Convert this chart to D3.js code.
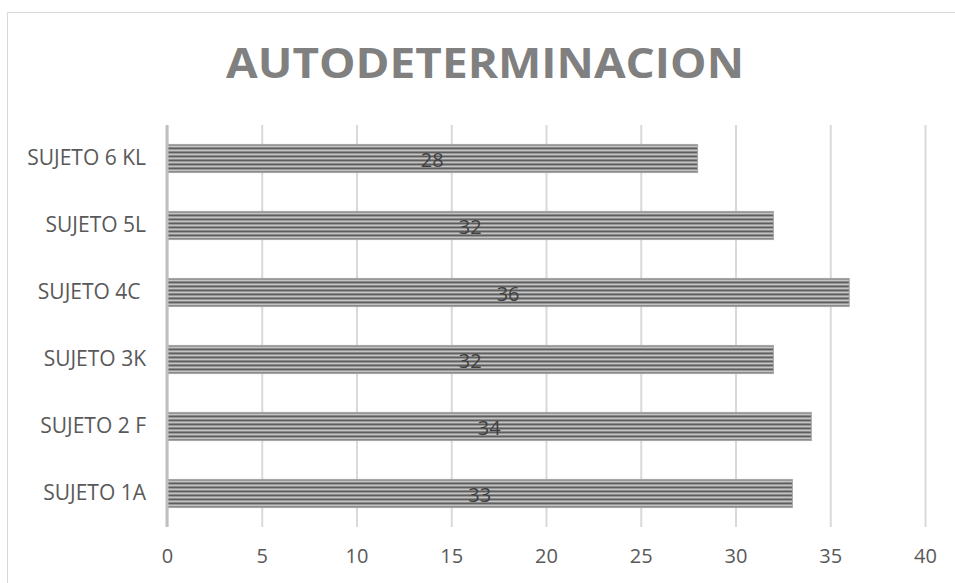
<!DOCTYPE html>
<html>
<head>
<meta charset="utf-8">
<script src="https://cdn.jsdelivr.net/npm/d3@7"></script>
<style>
  body { margin: 0; background: #fff; }
  svg { display: block; font-family: 'Open Sans', 'Noto Sans', sans-serif; }
</style>
</head>
<body>
<svg id="chart"></svg>
<script>
// data, bottom to top as in the original
const categories = ['SUJETO 1A', 'SUJETO 2 F', 'SUJETO 3K', 'SUJETO 4C ', 'SUJETO 5L', 'SUJETO 6 KL'];
const values = [33, 34, 32, 36, 32, 28];
const xTicks = [0, 5, 10, 15, 20, 25, 30, 35, 40];
const title = 'AUTODETERMINACION';

const width = 955;
const height = 583;
const margin = { top: 125, right: 30, bottom: 56, left: 167 };
const innerWidth = 925 - margin.left;
const innerHeight = height - margin.top - margin.bottom;

const svg = d3.select('#chart')
  .attr('width', width)
  .attr('height', height);

// chart border (runs off the right and bottom edges)
svg.append('path')
  .attr('d', `M${width},12.5H7.5V${height}`)
  .attr('fill', 'none')
  .attr('stroke', '#d9d9d9');

svg.append('text')
  .attr('x', 485)
  .attr('y', 78)
  .attr('text-anchor', 'middle')
  .attr('font-size', 41)
  .attr('font-weight', 'bold')
  .attr('fill', '#808080')
  .attr('textLength', 518)
  .attr('lengthAdjust', 'spacingAndGlyphs')
  .text(title);

const x = d3.scaleLinear().domain([0, 40]).range([0, innerWidth]);
const y = d3.scaleBand()
  .domain(categories.slice().reverse())
  .range([0, innerHeight])
  .paddingInner(0.58)
  .paddingOuter(0.29);

const defs = svg.append('defs');
const g = svg.append('g').attr('transform', `translate(${margin.left},${margin.top})`);

// grid
g.append('g')
  .attr('class', 'grid')
  .attr('transform', `translate(0,${innerHeight})`)
  .call(d3.axisBottom(x).tickValues(xTicks).tickSize(-innerHeight).tickFormat(''))
  .call((sel) => sel.select('.domain').remove())
  .call((sel) => sel.selectAll('line').attr('stroke', '#d9d9d9').attr('stroke-width', 2));

// bars with horizontal stripe fill
const bars = categories.map((c, i) => ({ cat: c, value: values[i], id: `stripe${i}` }));

bars.forEach((d) => {
  const p = defs.append('pattern')
    .attr('id', d.id)
    .attr('patternUnits', 'userSpaceOnUse')
    .attr('x', 0)
    .attr('y', margin.top + y(d.cat))
    .attr('width', 8)
    .attr('height', 4);
  p.append('rect').attr('width', 8).attr('height', 4).attr('fill', '#c4c4c4');
  p.append('rect').attr('y', 2).attr('width', 8).attr('height', 2).attr('fill', '#5e5e5e');
});

g.selectAll('rect.bar')
  .data(bars)
  .enter()
  .append('rect')
  .attr('class', 'bar')
  .attr('x', 0)
  .attr('y', (d) => y(d.cat))
  .attr('width', (d) => x(d.value))
  .attr('height', y.bandwidth())
  .attr('fill', (d) => `url(#${d.id})`)
  .attr('stroke', '#a6a6a6')
  .attr('stroke-width', 1);

// value axis line at zero
g.append('line')
  .attr('x1', 0).attr('x2', 0)
  .attr('y1', 0).attr('y2', innerHeight)
  .attr('stroke', '#bfbfbf')
  .attr('stroke-width', 3);

// data labels
g.selectAll('text.label')
  .data(bars)
  .enter()
  .append('text')
  .attr('class', 'label')
  .attr('x', (d) => x(d.value) / 2)
  .attr('y', (d) => y(d.cat) + y.bandwidth() / 2 + 8)
  .attr('text-anchor', 'middle')
  .attr('font-size', 20)
  .attr('fill', '#404040')
  .text((d) => d.value);

// category labels
const yAxis = g.append('g')
  .call(d3.axisLeft(y).tickSize(0).tickPadding(21));
yAxis.select('.domain').remove();
yAxis.selectAll('text')
  .attr('font-size', 21)
  .attr('font-family', "'Open Sans', 'Noto Sans', sans-serif")
  .attr('fill', '#595959')
  .style('white-space', 'pre');

// x tick labels
const xAxis = g.append('g')
  .attr('transform', `translate(0,${innerHeight})`)
  .call(d3.axisBottom(x).tickValues(xTicks).tickSize(0).tickPadding(22));
xAxis.select('.domain').remove();
xAxis.selectAll('text')
  .attr('font-size', 20)
  .attr('font-family', "'Open Sans', 'Noto Sans', sans-serif")
  .attr('fill', '#595959');
</script>
</body>
</html>
